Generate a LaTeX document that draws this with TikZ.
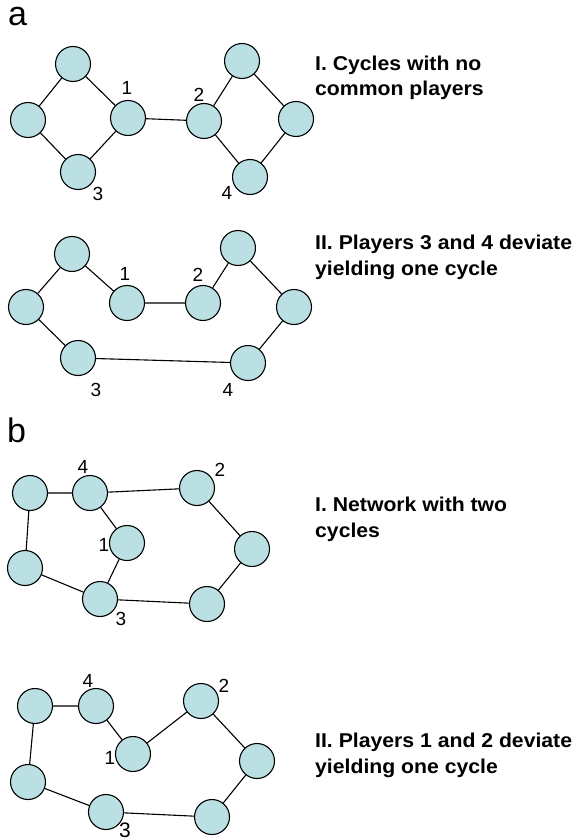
\documentclass[tikz,border=0pt]{standalone}
\usepackage{fontspec}
\setmainfont{Liberation Sans}
\newfontfamily\descfont[FakeStretch=1.06]{Liberation Sans}
\definecolor{nodefill}{RGB}{187,224,227}
\tikzset{
  pl/.style={circle, draw=black, line width=1.1pt, fill=nodefill, minimum size=35pt, inner sep=0pt},
  edge/.style={line width=1.1pt, draw=black},
  num/.style={font=\fontsize{19}{19}\selectfont, anchor=base, inner sep=0pt},
  desc/.style={font=\descfont\bfseries\fontsize{20}{25.5}\selectfont, anchor=base west, inner sep=0pt, align=left},
  panel/.style={font=\fontsize{34}{34}\selectfont, anchor=base west, inner sep=0pt}
}
\begin{document}
\begin{tikzpicture}[x=1pt,y=-1pt]
\useasboundingbox (0,0) rectangle (576,840);
% panel letters
\node[panel] (pa) at (8,26) {a};
\node[panel] (pb) at (7,442) {b};
% ---------- a I ----------
\node[pl] (a1t) at (73,64) {};
\node[pl] (a1l) at (28,120) {};
\node[pl] (a13) at (78,172) {};
\node[pl] (a11) at (128,118) {};
\node[pl] (a12) at (204,121) {};
\node[pl] (a1rt) at (242,61) {};
\node[pl] (a1r) at (296,119) {};
\node[pl] (a14) at (250,177) {};
\draw[edge] (a1t) -- (a1l) (a1l) -- (a13) (a13) -- (a11) (a11) -- (a1t)
  (a11) -- (a12) (a12) -- (a1rt) (a1rt) -- (a1r) (a1r) -- (a14) (a14) -- (a12);
\node[num] (la11) at (127,95) {1};
\node[num] (la12) at (199,102) {2};
\node[num] (la13) at (98,200) {3};
\node[num] (la14) at (227,199) {4};
\node[desc] (da1) at (315,96) {I. Cycles with no\\common players};
% ---------- a II ----------
\node[pl] (a2t) at (72,254) {};
\node[pl] (a2l) at (26,307) {};
\node[pl] (a23) at (78,358) {};
\node[pl] (a21) at (127,303) {};
\node[pl] (a22) at (203,303) {};
\node[pl] (a2rt) at (238,248) {};
\node[pl] (a2r) at (294,307) {};
\node[pl] (a24) at (248,363) {};
\draw[edge] (a2t) -- (a2l) (a2l) -- (a23) (a23) -- (a24) (a2t) -- (a21)
  (a21) -- (a22) (a22) -- (a2rt) (a2rt) -- (a2r) (a2r) -- (a24);
\node[num] (la21) at (125,280) {1};
\node[num] (la22) at (198,281) {2};
\node[num] (la23) at (96,396) {3};
\node[num] (la24) at (228,396) {4};
\node[desc] (da2) at (315,275) {II. Players 3 and 4 deviate\\yielding one cycle};
% ---------- b I ----------
\node[pl] (b1t) at (30,493) {};
\node[pl] (b14) at (90,493) {};
\node[pl] (b12) at (197,488) {};
\node[pl] (b11) at (127,543) {};
\node[pl] (b1l) at (25,568) {};
\node[pl] (b13) at (100,599) {};
\node[pl] (b1r) at (252,549) {};
\node[pl] (b1br) at (207,604) {};
\draw[edge] (b1t) -- (b14) (b14) -- (b12) (b14) -- (b11) (b11) -- (b13)
  (b1t) -- (b1l) (b1l) -- (b13) (b13) -- (b1br) (b1br) -- (b1r) (b1r) -- (b12);
\node[num] (lb14) at (83,473) {4};
\node[num] (lb12) at (220,476) {2};
\node[num] (lb11) at (104,551) {1};
\node[num] (lb13) at (121,625) {3};
\node[desc] (db1) at (315,537) {I. Network with two\\cycles};
% ---------- b II ----------
\node[pl] (b2t) at (35,706) {};
\node[pl] (b24) at (96,706) {};
\node[pl] (b22) at (201,701) {};
\node[pl] (b21) at (133,754) {};
\node[pl] (b2l) at (28,782) {};
\node[pl] (b23) at (106,812) {};
\node[pl] (b2r) at (257,761) {};
\node[pl] (b2br) at (212,817) {};
\draw[edge] (b2t) -- (b24) (b24) -- (b21) (b21) -- (b22) (b22) -- (b2r)
  (b2r) -- (b2br) (b2br) -- (b23) (b23) -- (b2l) (b2l) -- (b2t);
\node[num] (lb24) at (88,687) {4};
\node[num] (lb22) at (224,692) {2};
\node[num] (lb21) at (110,764) {1};
\node[num, font=\fontsize{21}{21}\selectfont] (lb23) at (125,837) {3};
\node[desc] (db2) at (315,773) {II. Players 1 and 2 deviate\\yielding one cycle};
\end{tikzpicture}
\end{document}
